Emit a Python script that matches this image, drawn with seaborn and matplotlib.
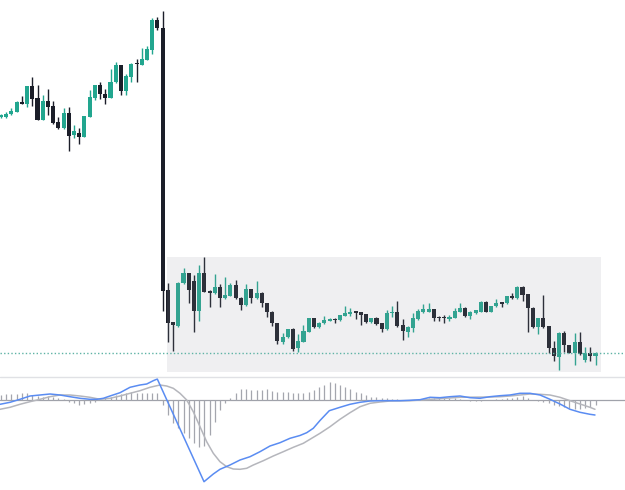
import numpy as np
import pandas as pd
import matplotlib
matplotlib.use("Agg")
import matplotlib.pyplot as plt
import seaborn as sns
from matplotlib.lines import Line2D
from matplotlib.patches import Rectangle

# ---------------- data (price units) ----------------
opens = [283, 283.5, 286, 288.5, 298.5, 296, 314, 302, 280.3, 299.3,
         294, 278, 271.7, 287.3, 265, 267, 263.3, 283.3, 301.7, 315,
         306, 302, 317.7, 335, 309, 323.3, 336.3, 335, 340, 350,
         380, 371.7, 110, 78, 74, 116.7, 126.7, 119, 89.3, 126.7,
         109, 106.7, 113.3, 101.7, 104.3, 115, 102, 95, 110.7, 101.7,
         107.3, 96.7, 88.3, 76.7, 58.3, 62.7, 70.7, 51.7, 58.3, 68.3,
         81.7, 72.7, 76.7, 79.3, 81.5, 80, 84.3, 86, 88.5, 87.7,
         85.7, 77.7, 82.3, 77, 70.7, 87, 88, 75, 68.3, 71.7,
         80.7, 88, 88.3, 90.7, 82.5, 82.5, 80.7, 82.3, 88.3, 91.7,
         84.5, 87, 88.3, 98.3, 88.3, 94, 98, 96.7, 104, 101.7,
         113.3, 106, 92, 73, 82, 74, 51.7, 43.3, 66.7, 55,
         47.3, 58.3, 40.5, 46.7, 44]
highs = [286, 288, 292, 299.5, 304, 314.5, 323, 315, 305.3, 311.5,
         299, 283.5, 291.7, 293.3, 275, 272.3, 284.5, 310, 315.5, 318,
         310.7, 330.7, 338, 335.5, 326, 337.3, 340.7, 351.7, 354, 381.7,
         382.7, 389.3, 117.5, 78.5, 118.3, 132.5, 127.3, 125.5, 135, 143.3,
         110.5, 126, 116.5, 123, 117.3, 120, 103, 115.7, 111, 119,
         108, 97, 89, 77, 67, 71, 71.7, 66, 75, 82,
         82, 78, 84, 82.5, 82, 85.5, 94, 92.5, 89, 88.5,
         86.5, 82.5, 83, 77.5, 90.5, 94, 99, 81.5, 74, 87,
         90.7, 95.7, 96.7, 91, 84, 85, 85, 92.5, 96.7, 93.5,
         89, 90.5, 99, 99.5, 94.5, 100.7, 98.5, 104.5, 106.7, 114,
         114, 106.5, 93, 82.5, 105, 74.5, 59, 68, 69.5, 55.5,
         66.7, 68.3, 53.3, 53.5, 48]
lows = [282, 282, 285.5, 288, 296, 293.5, 294, 280, 280, 285,
        276, 271.5, 271, 249.3, 262, 255.7, 263, 283, 300.5, 300.7,
        296.3, 301.7, 317, 305.3, 304.7, 318.3, 318.3, 334.7, 339.7, 346,
        370, 89.5, 58.3, 49, 72.7, 116, 97, 68.5, 79.3, 108,
        93, 106, 92.7, 101, 104, 101, 90.5, 94.5, 96.7, 101,
        92.7, 83.3, 74, 56.5, 56, 62.5, 49.3, 48.3, 58, 68,
        72.3, 72, 76, 79, 77.3, 79.5, 84, 84, 80.7, 75,
        77.5, 77.3, 75.3, 68.5, 70, 83.3, 73.5, 60, 63.3, 68.3,
        80.5, 87.5, 88, 79, 79.5, 76.7, 79, 82, 88, 83.5,
        81, 86.5, 88, 88, 88, 93.5, 93, 96.3, 101.3, 101,
        99, 68.3, 72.5, 66, 72.5, 47, 39, 30, 48.5, 47,
        35, 45.5, 38.3, 39.5, 35]
closes = [285, 286, 289, 298.3, 296, 314, 301.5, 280.3, 299.3, 293.5,
          277, 272, 287.3, 264, 269, 263.3, 283.7, 302.7, 315, 305.7,
          302.3, 318.3, 335, 309, 323.7, 335.7, 335.7, 340.7, 350.7, 380,
          371.7, 109.5, 77.3, 75.3, 117, 126.7, 110.5, 89.3, 126.7, 108.3,
          106.7, 113.3, 101.7, 105, 115.3, 102, 95, 110.7, 101.7, 107.3,
          96.7, 88.3, 76.7, 59, 62.7, 70.7, 50.7, 59.3, 69.3, 81.7,
          72.7, 77.3, 80, 80.7, 80, 85, 86.7, 88.3, 86.7, 85,
          78, 81.7, 76, 70.7, 87.3, 87.7, 74, 69, 72.7, 81.7,
          89, 90.7, 90.7, 81.7, 82, 82, 83.3, 89, 92.3, 84,
          88, 89.7, 98.3, 88.3, 94, 97.5, 96.5, 104, 101.7, 113.3,
          105, 91.7, 73, 81.7, 73, 51.7, 44, 66.7, 55, 47.3,
          58.3, 46, 47.3, 44, 47]

hist = [5, 5.7, 5.7, 6, 6.7, 7.3, 5, 4, 3.3, 4,
        3.3, 1.7, 0.7, -1.7, -3.3, -5, -4.3, -3.3, -2.3, 0.7,
        1.7, 3.3, 5, 6, 7.3, 8.3, 7.3, 6.7, 7.3, 6.7,
        6.7, -5, -15, -23.3, -28.3, -33.3, -38.3, -43.3, -46.7, -46,
        -35, -21.7, -10, -3.3, 1.7, 7.3, 10.7, 10.7, 10, 10,
        10, 10.7, 9.3, 8.3, 8.3, 8.3, 7.3, 7.3, 7.3, 8.3,
        10, 12.7, 15, 17.7, 16.7, 15, 12.7, 10.7, 8.3, 6.7,
        4.7, 3.3, 2.7, 2, 1.7, 1.3, 0.7, 0.3, 0.3, 0.3,
        0.7, 1.3, 2, 2, 2.3, 2, 2.3, 1.7, 1.3, 0.3,
        -0.7, -1, -0.7, 0, 0.3, 1, 1.3, 1.7, 2, 3.3,
        4, 2, 0.3, -1, -2, -2.7, -4.7, -6, -7.3, -8.3,
        -9.3, -9.3, -8.3, -7.3, -5]

macd_x = [-0.19, 1.73, 3.64, 5.56, 7.48, 9.40, 11.31, 13.23, 15.15, 17.07,
          18.35, 19.62, 20.90, 22.82, 24.74, 26.65, 27.94, 29.20, 29.97, 38.93,
          40.71, 41.99, 43.91, 45.83, 47.75, 49.66, 51.58, 53.50, 55.42, 57.33,
          58.62, 59.88, 61.17, 62.95, 65.00, 66.92, 68.84, 70.76, 72.68, 76.51,
          78.43, 80.35, 82.26, 84.18, 86.10, 88.02, 89.93, 91.85, 93.77, 95.69,
          97.60, 99.52, 101.44, 103.36, 105.27, 107.19, 109.11, 111.03, 112.94, 113.90]
macd_y = [-4.3, -2.3, 0.7, 4, 5, 6, 5, 3.3, 1.7, 0.7,
          0.7, 1.7, 4, 7.3, 12.7, 15, 16, 19.3, 21, -81.7,
          -74, -69.3, -65, -60, -56.7, -51.7, -46, -42.7, -38.3, -35.5,
          -32.7, -28.3, -20.5, -10.7, -7.3, -4.3, -2.3, -1, -0.7, -0.7,
          -0.3, 0.3, 2.7, 2.3, 3.3, 4, 2.3, 1.7, 3.3, 4.3,
          5, 6.7, 6.7, 5, 0.7, -4, -9.3, -12.3, -14.3, -15]

signal_x = [-0.19, 1.73, 3.64, 5.56, 7.48, 9.40, 11.31, 13.23, 15.15, 17.07,
            18.98, 20.90, 22.82, 24.74, 26.65, 28.57, 30.49, 31.77, 33.04, 34.32,
            35.61, 36.87, 38.16, 39.44, 40.71, 41.99, 43.28, 44.54, 45.83, 47.11,
            48.38, 50.30, 52.21, 54.13, 56.05, 57.97, 59.25, 61.17, 63.09, 65.00,
            66.92, 68.84, 70.76, 72.68, 74.59, 78.43, 80.35, 84.18, 88.02, 93.77,
            95.69, 97.60, 99.52, 101.44, 103.36, 105.27, 107.19, 109.11, 111.03, 112.94,
            113.90]
signal_y = [-9.3, -7.3, -4.3, -1.7, 0.7, 3.3, 5, 5, 4, 2.7,
            0.7, 1.7, 4, 6.7, 9.3, 12.7, 15, 14, 11.7, 6.7,
            0, -11.7, -26.7, -41.7, -53.3, -61.7, -66.7, -69, -69.3, -68.3,
            -65, -60.7, -56, -51.7, -47.3, -43.3, -39.3, -33.3, -26.7, -19.3,
            -12.7, -6.7, -3.3, -2, -1, -0.7, 0, 1.3, 2.7, 3,
            3.3, 4, 5, 6, 5.7, 5, 2.7, -0.7, -4, -7.3,
            -9.3]

range_start, range_end = 31.83, 115.05
range_low, range_high = 28, 143
support_level = 47

# ---------------- styling ----------------
UP = "#22a68f"
DOWN = "#1b1e29"
BLUE = "#5a8cf2"
SIG = "#b5b6bc"
HISTC = "#a4a6ae"

sns.set_theme(style="white")

W, H = 625, 490
fig = plt.figure(figsize=(W / 100, H / 100), dpi=100)
fig.patch.set_facecolor("white")

split = 113 / H
ax = fig.add_axes([0, split, 1, 1 - split])
axm = fig.add_axes([0, 0, 1, split])

px_per_bar = 5.215
xl = (-1 / px_per_bar, (W - 1) / px_per_bar)

df = pd.DataFrame({"o": opens, "h": highs, "l": lows, "c": closes})
df["x"] = np.arange(len(df))
df["up"] = df["c"] >= df["o"]
df["col"] = np.where(df["up"], UP, DOWN)
body_lo = np.minimum(df["o"], df["c"])
body_h = np.maximum(np.abs(df["c"] - df["o"]), 0.9)

ax.vlines(df["x"], df["l"], df["h"], colors=df["col"], linewidth=1.0, zorder=2)
ax.bar(df["x"], body_h, bottom=body_lo, width=0.78, color=df["col"],
       linewidth=0, zorder=3)

# consolidation box (semi-transparent overlay)
ax.add_patch(Rectangle((range_start, range_low), range_end - range_start,
                       range_high - range_low, facecolor="#9598a1",
                       alpha=0.15, edgecolor="none", zorder=4))
ax.axhline(support_level, color="#5fb3a5", linewidth=1.0,
           linestyle=(0, (1, 1.6)), zorder=5)

ax.set_xlim(*xl)
ax.set_ylim(23, 400)
ax.axis("off")

# MACD panel
axm.vlines(df["x"], 0, hist, colors=HISTC, linewidth=0.9, zorder=2)
axm.axhline(0, color="#a0a2aa", linewidth=0.9, zorder=1)
sns.lineplot(x=signal_x, y=signal_y, ax=axm, color=SIG, linewidth=1.1,
             estimator=None, sort=False, zorder=3)
sns.lineplot(x=macd_x, y=macd_y, ax=axm, color=BLUE, linewidth=1.1,
             estimator=None, sort=False, zorder=4)
axm.set_xlim(*xl)
axm.set_ylim(-90, 23)
axm.axis("off")

fig.add_artist(Line2D([0, 1], [split, split], transform=fig.transFigure,
                      color="#e0e1e5", linewidth=1.0))

fig.savefig("out.png", dpi=100, facecolor="white")
